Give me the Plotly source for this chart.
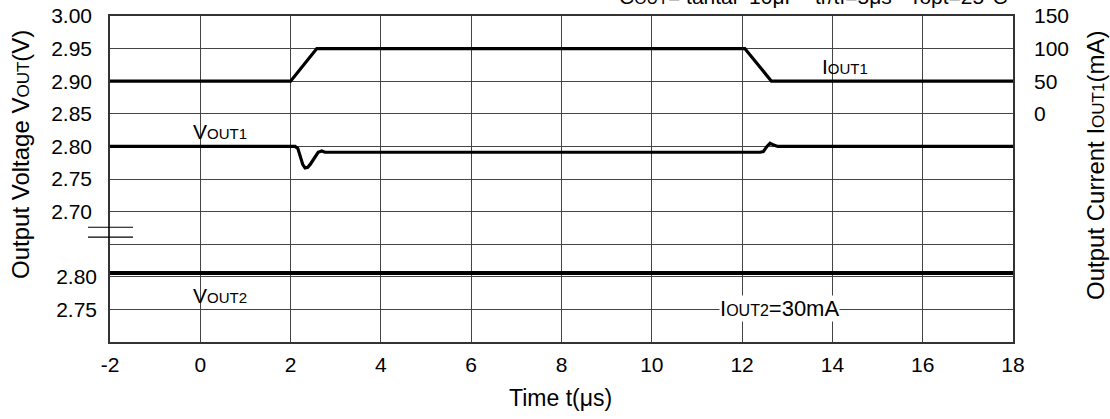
import plotly.graph_objects as go

# ---------------- data ----------------
t_iout1 = [-2.0, 2.0, 2.58, 12.06, 12.65, 18.0]
iout1_mA = [50, 50, 100, 100, 50, 50]

t_vout1 = [-2.0, 2.0, 2.10, 2.16, 2.21, 2.27, 2.32, 2.38, 2.43, 2.49, 2.54, 2.61, 2.69, 2.76,
           12.40, 12.47, 12.55, 12.62, 12.70, 12.79, 18.0]
vout1_V = [2.800, 2.800, 2.800, 2.797, 2.786, 2.772, 2.767, 2.768, 2.772, 2.779, 2.785, 2.791, 2.793, 2.791,
           2.791, 2.792, 2.800, 2.805, 2.802, 2.800, 2.800]

t_vout2 = [-2.0, 18.0]
vout2_V = [2.806, 2.806]

x_ticks = [-2, 0, 2, 4, 6, 8, 10, 12, 14, 16, 18]
x_text = ["-2", "0", "2", "4", "6", "8", "10", "12", "14", "16", "18"]
y1_grid = [3.00, 2.95, 2.90, 2.85, 2.80, 2.75, 2.70, 2.65, 2.60, 2.55]
y1_text = ["3.00", "2.95", "2.90", "2.85", "2.80", "2.75", "2.70", "", "", ""]
y3_ticks = [2.80, 2.75]
y3_text = ["2.80", "2.75"]
y2_ticks = [0, 50, 100, 150]

FONT = "Liberation Sans, Arial, sans-serif"
GRID = "#444444"


def sub(s, size=15):
    return "<span style='font-size:%dpx'>%s</span>" % (size, s)


fig = go.Figure()
fig.add_trace(go.Scatter(x=t_vout1, y=vout1_V, mode="lines", yaxis="y",
                         line=dict(color="black", width=3.2),
                         showlegend=False))
fig.add_trace(go.Scatter(x=t_iout1, y=iout1_mA, mode="lines", yaxis="y2",
                         line=dict(color="black", width=3.2), showlegend=False))
fig.add_trace(go.Scatter(x=t_vout2, y=vout2_V, mode="lines", yaxis="y3",
                         line=dict(color="black", width=4), showlegend=False))

TF = dict(size=21)
fig.update_layout(
    template="none",
    width=1110, height=419,
    margin=dict(l=110, r=97, t=16, b=77, pad=0),
    paper_bgcolor="white", plot_bgcolor="white",
    font=dict(family=FONT, size=21, color="black"),
    xaxis=dict(range=[-2, 18], tickvals=x_ticks, ticktext=x_text, showgrid=True, gridcolor=GRID,
               gridwidth=1, zeroline=False, showline=True, linecolor="#333", linewidth=1.5,
               mirror=True, ticks="", ticklabelstandoff=3, tickfont=TF, automargin=False),
    yaxis=dict(range=[2.50, 3.00], tickvals=y1_grid, ticktext=y1_text, showgrid=True,
               gridcolor=GRID, gridwidth=1, zeroline=False, showline=True, linecolor="#333",
               linewidth=1.5, mirror=True, ticks="", ticklabelstandoff=12, tickfont=TF,
               automargin=False),
    yaxis2=dict(range=[-350, 150], tickvals=y2_ticks, overlaying="y", side="right",
                showgrid=False, zeroline=False, showline=False, ticks="",
                ticklabelstandoff=20, tickfont=TF, automargin=False),
    yaxis3=dict(range=[2.70, 3.20], tickvals=y3_ticks, ticktext=y3_text, overlaying="y",
                side="left", showgrid=False, zeroline=False, showline=False, ticks="",
                ticklabelstandoff=12, tickfont=TF, automargin=False),
)

# annotations placed by page pixel position (centre of text)
L, R, T, B = 110, 1013, 16, 342
ann_spec = [
    ("Time t(μs)", 560, 398, dict(size=23), {}),
    ("Output Voltage V" + sub("OUT", 17) + "(V)", 20, 155, dict(size=24), dict(textangle=-90)),
    ("Output Current I" + sub("OUT1", 17) + "(mA)", 1095, 166, dict(size=24), dict(textangle=-90)),
    ("V" + sub("OUT1"), 220, 131, dict(size=21), {}),
    ("I" + sub("OUT1"), 845, 66, dict(size=21), {}),
    ("V" + sub("OUT2"), 220, 295, dict(size=21), {}),
    ("I" + sub("OUT2", 16) + "=30mA", 779, 308, dict(size=22), dict(bgcolor="white", borderpad=0)),
]
ann = []
for text, px, py, f, extra in ann_spec:
    d = dict(text=text, x=(px - L) / (R - L), y=(B - py) / (B - T), xref="paper", yref="paper",
             xanchor="center", yanchor="middle", showarrow=False, font=f)
    d.update(extra)
    ann.append(d)
ann.append(dict(text="C" + sub("OUT", 16) + "= tantal  10μF   tr/tf=5μs   Topt=25°C",
                x=(1010 - L) / (R - L), y=(B + 3) / (B - T), xref="paper", yref="paper",
                xanchor="right", yanchor="middle", showarrow=False, font=dict(size=21)))
fig.update_layout(annotations=ann)

# axis-break symbol on the left axis
for yb in [2.676, 2.661]:
    fig.add_shape(type="line", xref="paper", yref="y", x0=-0.0244, x1=0.0255, y0=yb, y1=yb,
                  line=dict(color="black", width=1.2))

fig.write_html("out.html", config={"displayModeBar": False},
               post_script="document.body.style.margin='0';")
